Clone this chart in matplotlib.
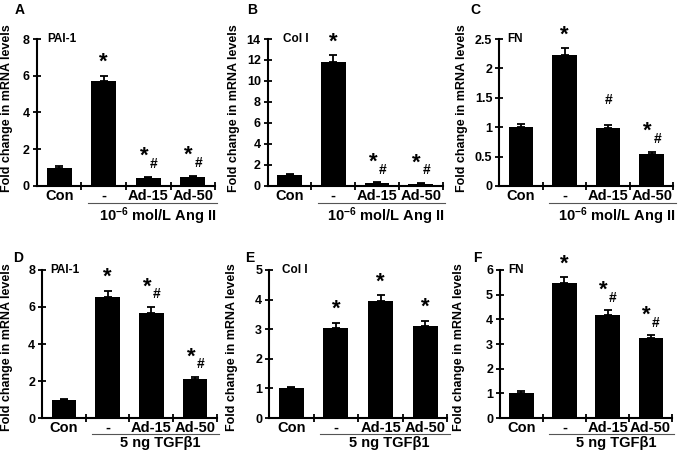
import numpy as np
import matplotlib
matplotlib.use("Agg")
import matplotlib.pyplot as plt
from matplotlib.ticker import FormatStrFormatter, FixedLocator

plt.rcParams['font.family'] = ['Liberation Sans', 'DejaVu Sans']
plt.rcParams['font.weight'] = 'bold'
plt.rcParams['mathtext.fontset'] = 'custom'
plt.rcParams['mathtext.rm'] = 'Liberation Sans:bold'
plt.rcParams['mathtext.it'] = 'Liberation Sans:bold'
plt.rcParams['mathtext.bf'] = 'Liberation Sans:bold'

# data
categories = ["Con", "-", "Ad-15", "Ad-50"]
panel_letters = ["A", "B", "C", "D", "E", "F"]
genes = ["PAI-1", "Col I", "FN", "PAI-1", "Col I", "FN"]
treatments = ["10$^{-6}$ mol/L Ang II"] * 3 + ["5 ng TGF\u03b21"] * 3

means = [
    [1.0, 5.7, 0.45, 0.5],
    [1.0, 11.8, 0.25, 0.2],
    [1.0, 2.22, 0.98, 0.55],
    [1.0, 6.55, 5.7, 2.1],
    [1.0, 3.05, 3.95, 3.12],
    [1.03, 5.45, 4.18, 3.23],
]
errors = [
    [0.08, 0.3, 0.06, 0.06],
    [0.1, 0.65, 0.08, 0.08],
    [0.06, 0.12, 0.05, 0.03],
    [0.06, 0.32, 0.3, 0.12],
    [0.05, 0.17, 0.2, 0.17],
    [0.05, 0.25, 0.18, 0.13],
]
marks = [
    ["", "*", "*#", "*#"],
    ["", "*", "*#", "*#"],
    ["", "*", "#", "*#"],
    ["", "*", "*#", "*#"],
    ["", "*", "*", "*"],
    ["", "*", "*#", "*#"],
]
ymax = [8, 14, 2.5, 8, 5, 6]
ystep = [2, 2, 0.5, 2, 1, 1]

# axes placement [left, bottom, width, height] in figure fractions
rects = [
    [0.054, 0.595, 0.261, 0.320],
    [0.392, 0.595, 0.256, 0.320],
    [0.731, 0.595, 0.255, 0.320],
    [0.0615, 0.089, 0.256, 0.323],
    [0.394, 0.089, 0.261, 0.323],
    [0.732, 0.089, 0.252, 0.323],
]
gene_x = [0.06, 0.086, 0.046, 0.046, 0.073, 0.047]
# distance (px) from y axis to right edge of the y label
label_gap = [24, 28, 31, 29, 31, 35]

fig = plt.figure(figsize=(6.83, 4.59), dpi=100)
x = np.arange(len(categories))

for k in range(6):
    ax = fig.add_axes(rects[k])
    ax.bar(x, means[k], width=0.56, color="black", zorder=2)
    ax.errorbar(x, means[k], yerr=[np.zeros(4), errors[k]], fmt="none",
                ecolor="black", elinewidth=1.3, capsize=3, capthick=1.3, zorder=1)
    ax.set_xlim(-0.5, 3.5)
    ax.set_ylim(0, ymax[k])
    ax.set_yticks(np.arange(0, ymax[k] + 1e-9, ystep[k]))
    ax.yaxis.set_major_formatter(FormatStrFormatter("%g"))
    ax.xaxis.set_major_locator(FixedLocator([0.5, 1.5, 2.5, 3.5]))
    ax.xaxis.set_major_formatter(plt.NullFormatter())
    ax.set_xticks(x, minor=True)
    ax.set_xticklabels(categories, minor=True, fontsize=10.5, fontweight="bold")
    ax.tick_params(axis="x", which="minor", length=0, pad=2)
    ax.tick_params(axis="x", which="major", direction="inout", length=6, width=1.3)
    ax.tick_params(axis="y", direction="inout", length=6, width=1.3, labelsize=9, pad=2)
    for sp in ["top", "right"]:
        ax.spines[sp].set_visible(False)
    for sp in ["left", "bottom"]:
        ax.spines[sp].set_linewidth(1.5)
    ax.set_ylabel("Fold change in mRNA levels", fontsize=9, fontweight="bold")
    wpx = rects[k][2] * 683
    ax.yaxis.set_label_coords(-label_gap[k] / wpx, 0.53 if k < 3 else 0.48)
    ax.text(gene_x[k], 1.0, genes[k], transform=ax.transAxes, fontsize=8.5,
            fontweight="bold", va="center", ha="left")

    # significance markers
    for i in range(4):
        top = means[k][i] + errors[k][i]
        m = marks[k][i]
        if m == "*":
            ax.annotate("*", (x[i], top), xytext=(0, 2), textcoords="offset points",
                        ha="center", va="bottom", fontsize=16, fontweight="bold")
        elif m == "*#":
            ax.annotate("*", (x[i], top), xytext=(-3, 7), textcoords="offset points",
                        ha="center", va="bottom", fontsize=16, fontweight="bold")
            ax.annotate("#", (x[i], top), xytext=(4, 4), textcoords="offset points",
                        ha="center", va="bottom", fontsize=10, fontweight="bold")
        elif m == "#":
            ax.annotate("#", (x[i], top), xytext=(0, 13), textcoords="offset points",
                        ha="center", va="bottom", fontsize=10, fontweight="bold")

    # treatment bracket line + label
    trans = ax.get_xaxis_transform()
    ly = -0.115 if k < 3 else -0.107
    ax.plot([0.65, 3.55], [ly, ly], color="#555555", lw=0.8, transform=trans, clip_on=False)
    ax.text(2.2, ly - 0.015, treatments[k], transform=trans, ha="center", va="top",
            fontsize=10.5, fontweight="bold")

# panel letters
letter_pos = [(20, 10), (252, 10), (475, 10), (18, 258), (250, 258), (477, 258)]
for k in range(6):
    px, py = letter_pos[k]
    fig.text(px / 683, 1 - py / 459, panel_letters[k], fontsize=10, fontweight="bold",
             ha="center", va="center")

fig.savefig("out.png", dpi=100)
